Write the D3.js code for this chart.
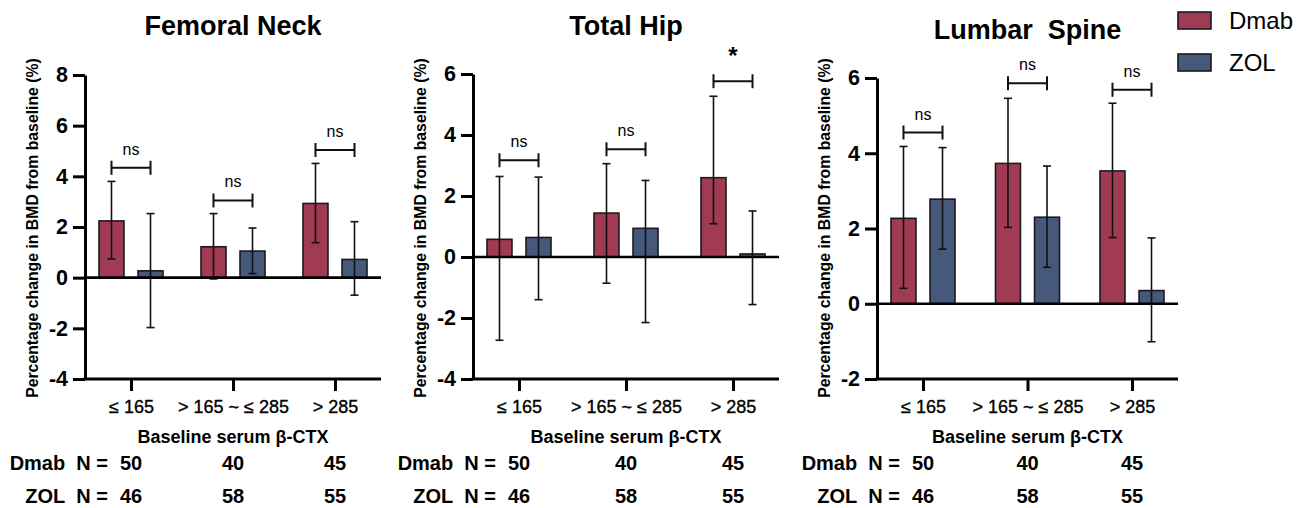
<!DOCTYPE html>
<html>
<head>
<meta charset="utf-8">
<title>BMD change by baseline serum beta-CTX</title>
<script src="https://cdnjs.cloudflare.com/ajax/libs/d3/7.8.5/d3.min.js"></script>
<style>
  body { margin: 0; background: #fff; }
  svg { font-family: Arial, "Liberation Sans", sans-serif; }
</style>
</head>
<body>
<svg id="chart" width="1306" height="508"></svg>
<script>
// categories and group names
var categories = ["≤ 165", "> 165 ~ ≤ 285", "> 285"];
var groups = ["Dmab", "ZOL"];
var colors = {Dmab: "#a13a53", ZOL: "#46587c"};

// Femoral Neck
var fnDmab = [2.24, 1.22, 2.93], fnDmabHi = [3.80, 2.53, 4.51], fnDmabLo = [0.74, -0.05, 1.38];
var fnZol  = [0.27, 1.05, 0.72], fnZolHi  = [2.53, 1.96, 2.21], fnZolLo  = [-1.97, 0.16, -0.69];
var fnSig = ["ns", "ns", "ns"], fnSigY = [4.34, 3.05, 5.04];

// Total Hip
var thDmab = [0.58, 1.44, 2.60], thDmabHi = [2.64, 3.06, 5.27], thDmabLo = [-2.73, -0.86, 1.09];
var thZol  = [0.64, 0.94, 0.10], thZolHi  = [2.62, 2.51, 1.51], thZolLo  = [-1.40, -2.15, -1.56];
var thSig = ["ns", "ns", "*"], thSigY = [3.17, 3.53, 5.76];

// Lumbar Spine
var lsDmab = [2.27, 3.73, 3.53], lsDmabHi = [4.18, 5.46, 5.33], lsDmabLo = [0.41, 2.03, 1.76];
var lsZol  = [2.78, 2.30, 0.35], lsZolHi  = [4.15, 3.66, 1.75], lsZolLo  = [1.45, 0.97, -1.01];
var lsSig = ["ns", "ns", "ns"], lsSigY = [4.55, 5.86, 5.69];

// sample sizes
var nDmab = [50, 40, 45];
var nZol = [46, 58, 55];

var panels = [
  {title: "Femoral Neck", x0: 85, x1: 381, yTop: 75, yBot: 379, domain: [-4, 8], ticks: [-4, -2, 0, 2, 4, 6, 8],
   titleY: 35, dmab: [fnDmab, fnDmabHi, fnDmabLo], zol: [fnZol, fnZolHi, fnZolLo], sig: fnSig, sigY: fnSigY},
  {title: "Total Hip", x0: 473, x1: 779, yTop: 74, yBot: 379, domain: [-4, 6], ticks: [-4, -2, 0, 2, 4, 6],
   titleY: 35, dmab: [thDmab, thDmabHi, thDmabLo], zol: [thZol, thZolHi, thZolLo], sig: thSig, sigY: thSigY},
  {title: "Lumbar\u00a0 Spine", x0: 877, x1: 1178, yTop: 78, yBot: 379, domain: [-2, 6], ticks: [-2, 0, 2, 4, 6],
   titleY: 39, dmab: [lsDmab, lsDmabHi, lsDmabLo], zol: [lsZol, lsZolHi, lsZolLo], sig: lsSig, sigY: lsSigY}
];

var svg = d3.select("#chart");

panels.forEach(function(p) {
  var g = svg.append("g");
  var y = d3.scaleLinear().domain(p.domain).range([p.yBot, p.yTop]);
  var x = d3.scalePoint().domain(categories).range([p.x0 + 46, p.x1 - 46]);
  var xs = d3.scaleBand().domain(groups).range([-32, 32]).paddingInner(0.36);

  // build rows for bars
  var rows = [];
  categories.forEach(function(c, i) {
    rows.push({cat: c, grp: "Dmab", v: p.dmab[0][i], hi: p.dmab[1][i], lo: p.dmab[2][i]});
    rows.push({cat: c, grp: "ZOL", v: p.zol[0][i], hi: p.zol[1][i], lo: p.zol[2][i]});
  });

  // title
  g.append("text")
    .attr("x", (p.x0 + p.x1) / 2).attr("y", p.titleY)
    .attr("text-anchor", "middle")
    .style("font-size", "27px").style("font-weight", "bold")
    .text(p.title);

  // y axis label
  g.append("text")
    .attr("transform", "translate(" + (p.x0 - 47) + "," + 228 + ") rotate(-90)")
    .attr("text-anchor", "middle")
    .style("font-size", "15.8px").style("font-weight", "bold")
    .text("Percentage change in BMD from baseline (%)");

  // bars
  g.selectAll(".bar").data(rows).enter().append("rect")
    .attr("x", function(d) { return x(d.cat) + xs(d.grp); })
    .attr("width", xs.bandwidth())
    .attr("y", function(d) { return y(Math.max(0, d.v)); })
    .attr("height", function(d) { return Math.abs(y(d.v) - y(0)); })
    .attr("fill", function(d) { return colors[d.grp]; })
    .attr("stroke", "#1a1a1a").attr("stroke-width", 1.6);

  // error bars
  var eb = g.selectAll(".eb").data(rows).enter().append("g")
    .attr("transform", function(d) { return "translate(" + (x(d.cat) + xs(d.grp) + xs.bandwidth() / 2) + ",0)"; });
  eb.append("line")
    .attr("y1", function(d) { return y(d.hi); }).attr("y2", function(d) { return y(d.lo); })
    .attr("stroke", "#111").attr("stroke-width", 1.6);
  eb.append("line").attr("x1", -4).attr("x2", 4)
    .attr("y1", function(d) { return y(d.hi); }).attr("y2", function(d) { return y(d.hi); })
    .attr("stroke", "#111").attr("stroke-width", 1.6);
  eb.append("line").attr("x1", -4).attr("x2", 4)
    .attr("y1", function(d) { return y(d.lo); }).attr("y2", function(d) { return y(d.lo); })
    .attr("stroke", "#111").attr("stroke-width", 1.6);

  // zero line
  g.append("line")
    .attr("x1", p.x0).attr("x2", p.x1).attr("y1", y(0)).attr("y2", y(0))
    .attr("stroke", "#000").attr("stroke-width", 2.6);

  // significance brackets  |----|
  var cx0 = xs("Dmab") + xs.bandwidth() / 2, cx1 = xs("ZOL") + xs.bandwidth() / 2;
  categories.forEach(function(c, i) {
    var by = y(p.sigY[i]);
    var xa0 = x(c) + cx0, xa1 = x(c) + cx1;
    g.append("path")
      .attr("d", "M" + xa0 + "," + by + "H" + xa1 +
                 "M" + xa0 + "," + (by - 7) + "V" + (by + 7) +
                 "M" + xa1 + "," + (by - 7) + "V" + (by + 7))
      .attr("fill", "none").attr("stroke", "#111").attr("stroke-width", 2);
    var star = p.sig[i] === "*";
    g.append("text")
      .attr("x", x(c) + (cx0 + cx1) / 2).attr("y", star ? by - 17 : by - 13)
      .attr("text-anchor", "middle")
      .style("font-size", star ? "24px" : "16px").style("font-weight", star ? "bold" : "normal")
      .text(p.sig[i]);
  });

  // y axis
  var ya = g.append("g").attr("transform", "translate(" + p.x0 + ",0)")
    .call(d3.axisLeft(y).tickValues(p.ticks).tickSize(12).tickSizeOuter(0).tickPadding(5).tickFormat(d3.format("d")));
  ya.select(".domain").attr("stroke-width", 3).attr("stroke", "#000");
  ya.selectAll(".tick line").attr("stroke-width", 3).attr("stroke", "#000");
  ya.selectAll(".tick text").style("font-size", "21.5px").style("font-weight", "bold").attr("fill", "#000")
    .text(function(d) { return d < 0 ? "-" + Math.abs(d) : d; });

  // x axis
  g.append("line")
    .attr("x1", p.x0 - 1.5).attr("x2", p.x1).attr("y1", p.yBot).attr("y2", p.yBot)
    .attr("stroke", "#000").attr("stroke-width", 3);
  var xa = g.append("g").attr("transform", "translate(0," + p.yBot + ")")
    .call(d3.axisBottom(x).tickSize(12).tickPadding(9));
  xa.select(".domain").remove();
  xa.selectAll(".tick line").attr("stroke-width", 3).attr("stroke", "#000");
  xa.selectAll(".tick text").style("font-size", "18px").attr("fill", "#000")
    .attr("stroke", "#000").attr("stroke-width", 0.35);

  // x axis title
  g.append("text")
    .attr("x", (p.x0 + p.x1) / 2).attr("y", 443)
    .attr("text-anchor", "middle")
    .style("font-size", "18px").style("font-weight", "bold")
    .text("Baseline serum β-CTX");

  // N table
  var rowsN = [{label: "Dmab\u00a0 N =", vals: nDmab, yy: 470}, {label: "ZOL\u00a0 N =", vals: nZol, yy: 503}];
  rowsN.forEach(function(r) {
    g.append("text")
      .attr("x", x(categories[0]) - 23).attr("y", r.yy)
      .attr("text-anchor", "end")
      .style("font-size", "20px").style("font-weight", "bold")
      .text(r.label);
    g.selectAll(null).data(r.vals).enter().append("text")
      .attr("x", function(d, i) { return x(categories[i]); }).attr("y", r.yy)
      .attr("text-anchor", "middle")
      .style("font-size", "20px").style("font-weight", "bold")
      .text(function(d) { return d; });
  });
});

// legend
var legend = svg.append("g").attr("transform", "translate(1178,12)");
groups.forEach(function(gname, i) {
  legend.append("rect")
    .attr("x", 0).attr("y", i * 42).attr("width", 33).attr("height", 17)
    .attr("fill", colors[gname]).attr("stroke", "#1a1a1a").attr("stroke-width", 1.6);
  legend.append("text")
    .attr("x", 51).attr("y", i * 42 + 17)
    .style("font-size", "24px")
    .text(gname);
});
</script>
</body>
</html>
